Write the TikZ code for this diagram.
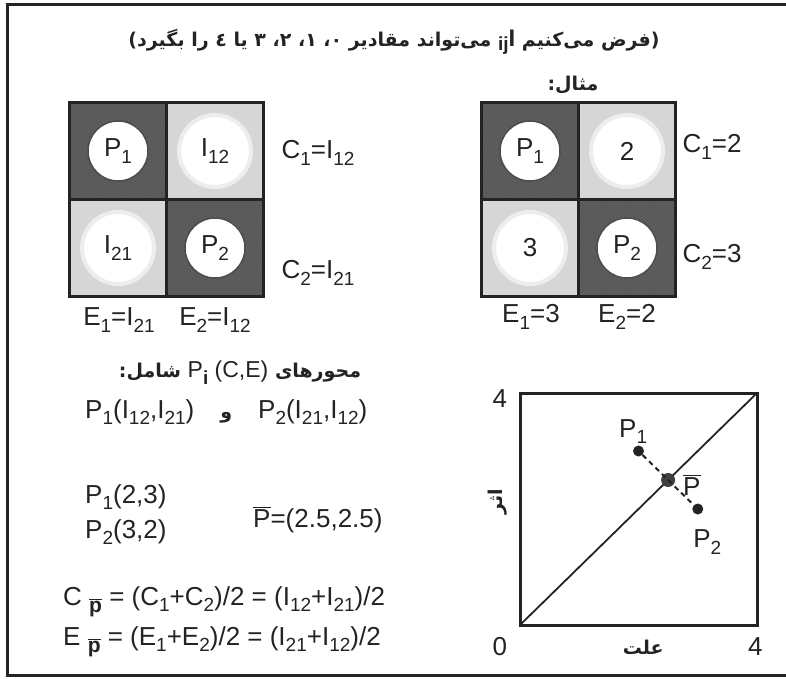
\documentclass[tikz,border=0pt]{standalone}
\usepackage{fontspec}
\setmainfont{Liberation Sans}
\newfontfamily\arabicfont[Script=Arabic]{DejaVu Sans}
\TeXXeTstate=1
\usetikzlibrary{patterns}
\definecolor{celldark}{RGB}{86,86,86}
\definecolor{celllight}{RGB}{214,214,214}
\definecolor{ink}{RGB}{35,35,35}
\newcommand{\sbs}[1]{\raisebox{-0.45ex}{\fontsize{19}{19}\selectfont #1}}
\newcommand{\fa}[1]{{\arabicfont\bfseries\beginR #1\endR}}
\newcommand{\Pbar}{\vbox{\hrule height 1.3pt\kern 2pt\hbox{P}}}
\newcommand{\pbar}{\raisebox{-0.5ex}{\fontsize{21}{21}\selectfont\bfseries\vbox{\hrule height 1.2pt\kern 1.5pt\hbox{p}}}}
\tikzset{
  lbl/.style={font=\fontsize{26}{30}\selectfont, text=ink, inner sep=0pt},
  falbl/.style={font=\fontsize{19}{24}\selectfont, text=ink, inner sep=0pt},
  cell/.style={draw=ink, line width=3.5pt, minimum size=97pt, inner sep=0pt, outer sep=0pt},
  darkcell/.style={cell, preaction={fill=celldark}, pattern=north west lines, pattern color=black!60},
  lightcell/.style={cell, fill=celllight},
  hole/.style={circle, fill=white, draw=black!70, line width=1.5pt, minimum size=60pt, lbl},
  wide hole/.style={circle, fill=white, draw=white!55!celllight, line width=4pt, minimum size=72pt, lbl},
  dot/.style={circle, fill=ink, minimum size=11pt, inner sep=0pt},
  mean dot/.style={circle, fill=black!75, minimum size=14pt, inner sep=0pt},
}
\begin{document}
\begin{tikzpicture}[x=1pt, y=-1pt]
\useasboundingbox (0,0) rectangle (786,679);
% frame
\draw[ink, line width=3pt] (786,5) -- (7,5) -- (7,675) -- (786,675);

\node[falbl] (title) at (394,42) {\fa{(فرض می‌کنیم \beginL{\normalfont\bfseries\sbs{ij}\fontsize{24}{24}\selectfont I}\endL{} می‌تواند مقادیر ۰، ۱، ۲، ۳ یا ٤ را بگیرد)}};

% general case
\node[darkcell] (a11) at (118,151) {};
\node[lightcell] (a12) at (215,151) {};
\node[lightcell] (a21) at (118,248) {};
\node[darkcell] (a22) at (215,248) {};
\node[hole] (h11) at (a11) {P\sbs{1}};
\node[wide hole] (h12) at (a12) {I\sbs{12}};
\node[wide hole] (h21) at (a21) {I\sbs{21}};
\node[hole] (h22) at (a22) {P\sbs{2}};
\node[lbl] (ac1) at (318,153) {C\sbs{1}=I\sbs{12}};
\node[lbl] (ac2) at (318,273) {C\sbs{2}=I\sbs{21}};
\node[lbl] (ae1) at (119,320) {E\sbs{1}=I\sbs{21}};
\node[lbl] (ae2) at (215,320) {E\sbs{2}=I\sbs{12}};

% example
\node[falbl] (extitle) at (573,85) {\fa{مثال:}};
\node[darkcell] (b11) at (530,151) {};
\node[lightcell] (b12) at (627,151) {};
\node[lightcell] (b21) at (530,248) {};
\node[darkcell] (b22) at (627,248) {};
\node[hole] (k11) at (b11) {P\sbs{1}};
\node[wide hole] (k12) at (b12) {2};
\node[wide hole] (k21) at (b21) {3};
\node[hole] (k22) at (b22) {P\sbs{2}};
\node[lbl] (bc1) at (712,147) {C\sbs{1}=2};
\node[lbl] (bc2) at (712,257) {C\sbs{2}=3};
\node[lbl] (be1) at (531,317) {E\sbs{1}=3};
\node[lbl] (be2) at (627,317) {E\sbs{2}=2};

% coordinates
\node[falbl] (axes) at (240,373) {\fa{محورهای \beginL{\normalfont\fontsize{23}{26}\selectfont P\raisebox{-0.6ex}{\bfseries\fontsize{19}{19}\selectfont i} (C,E)}\endL{} شامل:}};
\node[lbl, anchor=west] (pts) at (85,412) {P\sbs{1}(I\sbs{12},I\sbs{21})\quad{\arabicfont\bfseries\fontsize{19}{24}\selectfont و}\quad P\sbs{2}(I\sbs{21},I\sbs{12})};
\node[lbl, anchor=west] (ex1) at (85,497) {P\sbs{1}(2,3)};
\node[lbl, anchor=west] (ex2) at (85,532) {P\sbs{2}(3,2)};
\node[lbl, anchor=west] (exm) at (253,520) {\Pbar=(2.5,2.5)};
\node[lbl, anchor=west] (fc) at (63,602) {C \pbar\ = (C\sbs{1}+C\sbs{2})/2 = (I\sbs{12}+I\sbs{21})/2};
\node[lbl, anchor=west] (fe) at (63,642) {E \pbar\ = (E\sbs{1}+E\sbs{2})/2 = (I\sbs{21}+I\sbs{12})/2};

% plot
\begin{scope}[shift={(520,625)}, x=59.25pt, y=58pt]
  \draw[ink, line width=3pt] (0,0) rectangle (4,4);
  \draw[ink, line width=1.8pt] (0,0) -- (4,4);
  \node[dot] (q1) at (2,3) {};
  \node[dot] (q2) at (3,2) {};
  \node[mean dot] (qm) at (2.5,2.5) {};
  \draw[ink, line width=2pt, dash pattern=on 5pt off 4pt] (q1) -- (q2);
  \node[lbl] (lq1) at (1.91,3.33) {P\sbs{1}};
  \node[lbl] (lqm) at (2.9,2.41) {\Pbar};
  \node[lbl] (lq2) at (3.16,1.43) {P\sbs{2}};
  \node[lbl] (y4) at (-0.34,3.91) {4};
  \node[lbl] (o) at (-0.34,-0.38) {0};
  \node[lbl] (x4) at (3.97,-0.38) {4};
  \node[falbl] (xlab) at (2.08,-0.38) {\fa{علت}};
  \node[falbl, rotate=90] (ylab) at (-0.37,2.12) {\fa{اثر}};
\end{scope}
\end{tikzpicture}
\end{document}
